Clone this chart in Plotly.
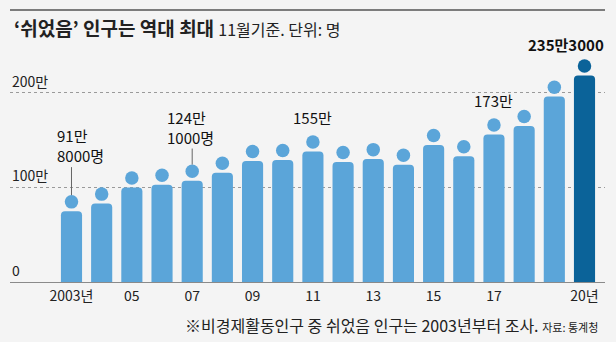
import plotly.graph_objects as go

years = list(range(2003, 2021))
values = [91.8, 100, 117, 120, 124.1, 132.5, 145, 146, 155, 144, 147, 141, 162, 150, 173, 182, 213, 235.3]  # 만 명
tick_vals = [2003, 2005, 2007, 2009, 2011, 2013, 2015, 2017, 2020]
tick_text = ["2003년", "05", "07", "09", "11", "13", "15", "17", "20년"]
y_ticks = [0, 100, 200]
y_tick_text = ["0", "100만", "200만"]
labels = {2003: "91만<br>8000명", 2007: "124만<br>1000명", 2011: "155만", 2017: "173만", 2020: "<b>235만3000</b>"}

W, H = 616, 342
L, R, T, B = 10, 11, 40, 60
plot_h = H - T - B
ymax = 255.7
px_per_unit = plot_h / ymax
head_d = 13.5
gap = 2.7
head_r_u = (head_d / 2) / px_per_unit
bar_off_u = (head_d + gap) / px_per_unit

light = "#5ba5d9"
dark = "#0b6399"
bg = "#f4f4f4"
txt = "#222222"
font = "Noto Sans CJK KR"

colors = [light] * (len(years) - 1) + [dark]
bar_h = [v - bar_off_u for v in values]
head_y = [v - head_r_u for v in values]

def px(xp):
    return (xp - L) / (W - L - R)

def py(yp):
    return (H - B - yp) / plot_h

fig = go.Figure()
fig.add_trace(go.Bar(x=years, y=bar_h, marker=dict(color=colors, line=dict(width=0)), width=0.7, hoverinfo="skip"))
fig.add_trace(go.Scatter(x=years, y=head_y, mode="markers",
                         marker=dict(size=head_d, color=colors, line=dict(width=0)), hoverinfo="skip"))

annotations = []
for v, t in zip(y_ticks, y_tick_text):
    annotations.append(dict(x=0, xref="paper", y=v, yref="y", text=t, showarrow=False,
                            xanchor="left", yanchor="bottom", yshift=0,
                            font=dict(family=font, size=14, color=txt)))

for yr, v in zip(years, values):
    if yr not in labels:
        continue
    t = labels[yr]
    if yr == 2003:
        a = dict(xanchor="left", xshift=-16, yshift=27, align="left", size=15)
    elif yr == 2007:
        a = dict(xanchor="left", xshift=-27, yshift=15, align="left", size=15)
    elif yr == 2020:
        a = dict(xanchor="right", xshift=21, yshift=2, align="right", size=15)
    else:
        a = dict(xanchor="center", xshift=0, yshift=5, align="center", size=15)
    annotations.append(dict(x=yr, y=v, xref="x", yref="y", text=t, showarrow=False,
                            xanchor=a["xanchor"], yanchor="bottom", xshift=a["xshift"], yshift=a["yshift"],
                            align=a["align"], font=dict(family=font, size=a["size"], color="#111111")))

annotations.append(dict(x=px(12), y=py(27), xref="paper", yref="paper",
                        text="<b>‘쉬었음’ 인구는 역대 최대</b> <span style='font-size:16px'>11월기준. 단위: 명</span>",
                        showarrow=False, xanchor="left", yanchor="middle",
                        font=dict(family=font, size=19, color=txt)))
annotations.append(dict(x=px(600), y=py(325), xref="paper", yref="paper",
                        text="※비경제활동인구 중 쉬었음 인구는 2003년부터 조사. <span style='font-size:11px'>자료: 통계청</span>",
                        showarrow=False, xanchor="right", yanchor="middle",
                        font=dict(family=font, size=16, color=txt)))

shapes = [
    dict(type="line", xref="paper", yref="paper", x0=0, x1=1, y0=py(10), y1=py(10),
         line=dict(color="#555555", width=1.5)),
    dict(type="line", xref="x", yref="y", x0=2003, x1=2003, ysizemode="pixel", yanchor=values[0],
         y0=0, y1=28, line=dict(color="#666666", width=1)),
    dict(type="line", xref="x", yref="y", x0=2007, x1=2007, ysizemode="pixel", yanchor=values[4],
         y0=0, y1=16, line=dict(color="#666666", width=1)),
]

fig.update_layout(
    width=W, height=H, autosize=False,
    margin=dict(l=L, r=R, t=T, b=B, pad=0),
    paper_bgcolor=bg, plot_bgcolor=bg,
    showlegend=False, bargap=0.3,
    barcornerradius=4,
    annotations=annotations, shapes=shapes,
    font=dict(family=font, color=txt),
    xaxis=dict(range=[2003 - 61.5 / 30.18, 2020 + 20.5 / 30.18], tickvals=tick_vals, ticktext=tick_text,
               showgrid=False, zeroline=False, showline=False, ticks="", ticklabelstandoff=4,
               tickfont=dict(family=font, size=14, color=txt), fixedrange=True),
    yaxis=dict(range=[0, ymax], tickvals=[100, 200], showticklabels=False, showgrid=True,
               gridcolor="#9a9a9a", griddash="dot", gridwidth=1,
               zeroline=True, zerolinecolor="#8a8a8a", zerolinewidth=1, showline=False, fixedrange=True),
)

fig.write_html("out.html")
